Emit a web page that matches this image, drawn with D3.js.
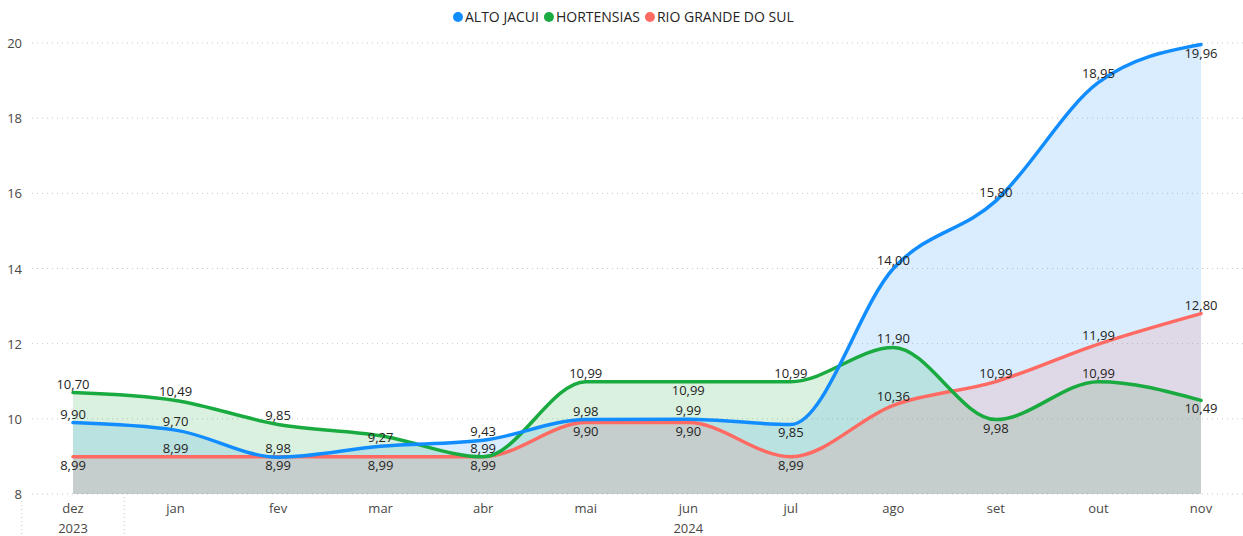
<!DOCTYPE html>
<html>
<head>
<meta charset="utf-8">
<script src="https://cdn.jsdelivr.net/npm/d3@7"></script>
<style>
  body { margin: 0; background: #fff; }
  svg { font-family: "Segoe UI", "Open Sans", "Noto Sans", sans-serif; }
</style>
</head>
<body>
<div id="chart"></div>
<script>
// Width and height
var chart_width = 1243;
var chart_height = 536;

// data
var months = ["dez", "jan", "fev", "mar", "abr", "mai", "jun", "jul", "ago", "set", "out", "nov"];
var years = [{label: "2023", from: 0, to: 0}, {label: "2024", from: 1, to: 11}];
var altoJacui = [9.90, 9.70, 8.98, 9.27, 9.43, 9.98, 9.99, 9.85, 14.00, 15.80, 18.95, 19.96];
var hortensias = [10.70, 10.49, 9.85, 9.55, 8.99, 10.99, 10.99, 10.99, 11.90, 9.98, 10.99, 10.49];
var rioGrande = [8.99, 8.99, 8.99, 8.99, 8.99, 9.90, 9.90, 8.99, 10.36, 10.99, 11.99, 12.80];
var yTicks = [8, 10, 12, 14, 16, 18, 20];

// a = label above, b = below, - = hidden (power bi drops overlapping ones)
var series = [
  {name: "ALTO JACUI", values: altoJacui, color: "#118DFF", labels: "aaaaaaabaaab"},
  {name: "HORTENSIAS", values: hortensias, color: "#1AAB40", labels: "aaa-aabaabab"},
  {name: "RIO GRANDE DO SUL", values: rioGrande, color: "#FF6B62", labels: "babbbbbbaaaa"}
];

var x = d3.scalePoint().domain(months).range([73, 1201]);
var y = d3.scaleLinear().domain([8, 20]).range([494, 43]);

var svg = d3.select("#chart").append("svg")
  .attr("width", chart_width)
  .attr("height", chart_height);

// gridlines
svg.append("g").selectAll("line").data(yTicks).enter().append("line")
  .attr("x1", 32).attr("x2", chart_width)
  .attr("y1", d => y(d)).attr("y2", d => y(d))
  .attr("stroke", "#c8c8c8")
  .attr("stroke-dasharray", "1,4");

// y axis labels
svg.append("g").selectAll("text").data(yTicks).enter().append("text")
  .attr("x", 22).attr("y", d => y(d) + 5)
  .attr("text-anchor", "end")
  .attr("font-size", 13)
  .attr("fill", "#4a4846")
  .text(d => d);

var area = d3.area()
  .x((d, i) => x(months[i]))
  .y0(y(8))
  .y1(d => y(d))
  .curve(d3.curveMonotoneX);

var line = d3.line()
  .x((d, i) => x(months[i]))
  .y(d => y(d))
  .curve(d3.curveMonotoneX);

svg.append("g").selectAll("path").data(series).enter().append("path")
  .attr("d", d => area(d.values))
  .attr("fill", d => d.color)
  .attr("fill-opacity", 0.16);

// lines, red first so blue sits on top
svg.append("g").selectAll("path").data(series.slice().reverse()).enter().append("path")
  .attr("d", d => line(d.values))
  .attr("fill", "none")
  .attr("stroke", d => d.color)
  .attr("stroke-width", 3.5)
  .attr("stroke-linecap", "round");

// data labels
var fmt = v => v.toFixed(2).replace(".", ",");
series.forEach(function(s) {
  var pts = s.values.map((v, i) => ({v: v, i: i, pos: s.labels[i]}))
    .filter(p => p.pos != "-");
  svg.append("g").selectAll("text").data(pts).enter()
    .append("text")
    .attr("x", p => x(months[p.i]))
    .attr("y", p => p.pos == "a" ? y(p.v) - 4 : y(p.v) + 13)
    .attr("text-anchor", "middle")
    .attr("font-size", 13)
    .attr("fill", "#252423")
    .text(p => fmt(p.v));
});

// x axis
svg.append("g").selectAll("text").data(months).enter().append("text")
  .attr("x", d => x(d)).attr("y", 513)
  .attr("text-anchor", "middle")
  .attr("font-size", 13)
  .attr("fill", "#4a4846")
  .text(d => d);

var step = x.step();
svg.append("g").selectAll("text").data(years).enter().append("text")
  .attr("x", d => (x(months[d.from]) + x(months[d.to])) / 2)
  .attr("y", 533)
  .attr("text-anchor", "middle")
  .attr("font-size", 13)
  .attr("fill", "#4a4846")
  .text(d => d.label);

// year separators
svg.append("g").selectAll("line").data(years).enter().append("line")
  .attr("x1", d => x(months[d.from]) - step / 2)
  .attr("x2", d => x(months[d.from]) - step / 2)
  .attr("y1", 497).attr("y2", chart_height)
  .attr("stroke", "#c8c8c8")
  .attr("stroke-dasharray", "1,3");

// legend
var legend = svg.append("g").attr("transform", "translate(458,17)");
var lx = 0;
series.forEach(function(s) {
  var g = legend.append("g").attr("transform", "translate(" + lx + ",0)");
  g.append("circle").attr("r", 5).attr("fill", s.color);
  var t = g.append("text").attr("x", 7).attr("y", 5)
    .attr("font-size", 14)
    .attr("fill", "#252423")
    .text(s.name);
  lx += 7 + t.node().getComputedTextLength() + 10;
});
</script>
</body>
</html>
